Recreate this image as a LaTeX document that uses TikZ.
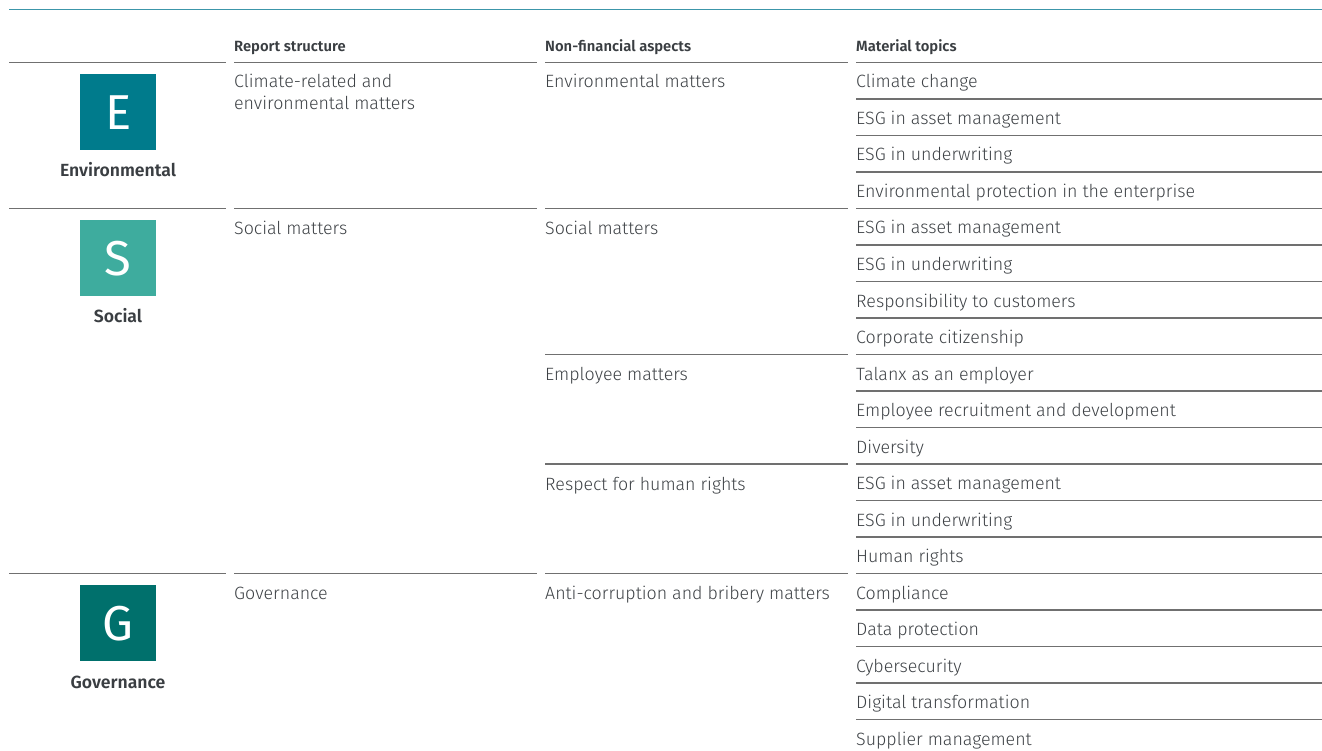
\documentclass[tikz,border=0pt]{standalone}
\usepackage{fontspec}
\setmainfont{Fira Sans}[UprightFont={* Light},BoldFont={* SemiBold}]
\newfontfamily\headfont{Fira Sans SemiBold}
\newfontfamily\letterfont{Fira Sans}
\definecolor{ecol}{RGB}{0,123,140}
\definecolor{scol}{RGB}{62,172,158}
\definecolor{gcol}{RGB}{0,112,108}
\definecolor{topline}{RGB}{60,150,170}
\definecolor{rule}{RGB}{112,112,112}
\definecolor{bodytxt}{RGB}{62,66,70}
\definecolor{headtxt}{RGB}{58,62,66}
\tikzset{
  x=1pt,y=-1pt,
  rowline/.style={draw=rule,line width=1.3pt},
  body/.style={anchor=base west,inner sep=0pt,text=bodytxt,font=\fontsize{17.8}{22}\selectfont},
  head/.style={anchor=base west,inner sep=0pt,text=headtxt,font=\headfont\fontsize{14.8}{17}\selectfont},
  letterbox/.style={minimum width=76pt,minimum height=76pt,inner sep=0pt,text=white,anchor=north west,font=\letterfont\fontsize{49}{49}\selectfont},
  catlabel/.style={anchor=base,inner sep=0pt,text=headtxt,font=\headfont\fontsize{17.6}{20}\selectfont},
}
\begin{document}
\begin{tikzpicture}
\useasboundingbox (0,0) rectangle (1322,751);
\draw[draw=topline,line width=1.5pt] (9,9.5) -- (1322,9.5);
% headers
\node[head] (h2) at (234,52) {Report structure};
\node[head] (h3) at (545,52) {Non-financial aspects};
\node[head] (h4) at (856,52) {Material topics};
% lines
\foreach \k in {0,4,14}{
  \draw[rowline] (9,62.5+36.5*\k) -- (226,62.5+36.5*\k);
  \draw[rowline] (234,62.5+36.5*\k) -- (537,62.5+36.5*\k);
}
\foreach \k in {0,4,8,11,14}{
  \draw[rowline] (545,62.5+36.5*\k) -- (848,62.5+36.5*\k);
}
\foreach \k in {0,...,18}{
  \draw[rowline] (856,62.5+36.5*\k) -- (1322,62.5+36.5*\k);
}
% category boxes
\node[letterbox,fill=ecol] (E) at (80,74) {E};
\node[catlabel] (El) at (118,177) {Environmental};
\node[letterbox,fill=scol] (S) at (80,220) {S};
\node[catlabel] (Sl) at (118,323) {Social};
\node[letterbox,fill=gcol] (G) at (80,585) {G};
\node[catlabel] (Gl) at (118,688) {Governance};
% column 2
\node[body] (r1a) at (234,88) {Climate-related and};
\node[body] (r1b) at (234,110) {environmental matters};
\node[body] (r2) at (234,234.5) {Social matters};
\node[body] (r3) at (234,599.5) {Governance};
% column 3
\node[body] (a1) at (545,88) {Environmental matters};
\node[body] (a2) at (545,234.5) {Social matters};
\node[body] (a3) at (545,380.5) {Employee matters};
\node[body] (a4) at (545,490) {Respect for human rights};
\node[body] (a5) at (545,599.5) {Anti-corruption and bribery matters};
% column 4
\foreach \t [count=\i from 0] in {Climate change,ESG in asset management,ESG in underwriting,Environmental protection in the enterprise,ESG in asset management,ESG in underwriting,Responsibility to customers,Corporate citizenship,Talanx as an employer,Employee recruitment and development,Diversity,ESG in asset management,ESG in underwriting,Human rights,Compliance,Data protection,Cybersecurity,Digital transformation,Supplier management}{
  \node[body] (m\i) at (856,88+36.5*\i) {\t};
}
\end{tikzpicture}
\end{document}
